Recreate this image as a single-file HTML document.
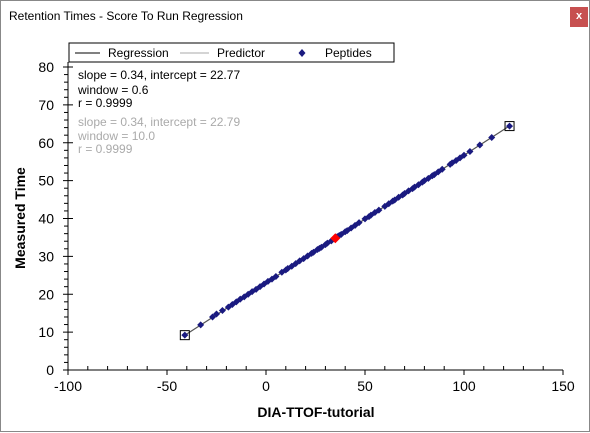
<!DOCTYPE html>
<html><head><meta charset="utf-8"><style>
body{margin:0;width:590px;height:432px;background:#fff;font-family:"Liberation Sans",sans-serif;overflow:hidden;position:relative}
#win{position:absolute;left:0;top:0;width:588px;height:430px;border:1px solid #888;background:#fff}
#title{position:absolute;left:8px;top:8px;font-size:12px;color:#000}
#close{position:absolute;left:569px;top:6px;width:18px;height:20px;background:#c75050;color:#fff;font-size:11px;font-weight:bold;text-align:center;line-height:19px}
</style></head><body>
<div id="win">
<div id="title">Retention Times - Score To Run Regression</div>
<div id="close">x</div>
<svg id="chart" width="590" height="432" style="position:absolute;left:0;top:0"></svg>
</div>
<script>
const xTicks=[-100,-50,0,50,100,150];
const yTicks=[0,10,20,30,40,50,60,70,80];
const peptideX=[-41,-33,-27,-25,-22,-19,-17,-15,-13,-11,-9,-7,-5,-3,-1,1,3,5,8,10,11,13,15,17,19,21,23,24,26,27,28,30,31,33,36,37,38,40,41,43,45,47,50,52,53,55,57,60,62,64,65,67,69,70,72,74,75,77,79,80,82,84,85,87,89,93,94,96,98,100,103,108,114,123];
const peptideY=[9.2,11.9,14.0,14.8,15.7,16.6,17.3,18.0,18.7,19.3,20.0,20.7,21.3,22.0,22.7,23.4,24.0,24.7,25.8,26.4,26.8,27.4,28.1,28.8,29.4,30.1,30.8,31.1,31.8,32.1,32.4,33.1,33.5,34.1,35.2,35.5,35.8,36.5,36.8,37.5,38.2,38.9,39.9,40.5,40.9,41.6,42.2,43.2,43.9,44.6,44.9,45.6,46.2,46.6,47.3,47.9,48.3,48.9,49.6,50.0,50.6,51.3,51.6,52.3,53.0,54.3,54.7,55.3,56.0,56.7,57.7,59.4,61.4,64.4];
const regression=[0.337,23.0];
const selectedX=[35],selectedY=[34.8];
const svg=document.getElementById('chart');
const NS='http://www.w3.org/2000/svg';
const X0=67,X1=562,Y0=369,Y1=66;
function sx(v){return X0+(v-xTicks[0])/(xTicks[xTicks.length-1]-xTicks[0])*(X1-X0);}
function sy(v){return Y0-(v-yTicks[0])/(yTicks[yTicks.length-1]-yTicks[0])*(Y0-Y1);}
function mk(t,a,txt){const e=document.createElementNS(NS,t);for(const k in a)e.setAttribute(k,a[k]);if(txt!==undefined)e.textContent=txt;svg.appendChild(e);return e;}
let e;
e=mk('line',{x1:X0,y1:Y1-5,x2:X0,y2:Y0,stroke:'#000'});


e=mk('line',{x1:X0-4,y1:Y0,x2:X1,y2:Y0,stroke:'#000'});


xTicks.forEach((v,i)=>{
 e=mk('line',{x1:sx(v),y1:Y0,x2:sx(v),y2:Y0+5,stroke:'#000'});
 
 
 if(i<xTicks.length-1)for(let m=1;m<5;m++){e=mk('line',{x1:sx(v+m*10),y1:Y0,x2:sx(v+m*10),y2:Y0-4,stroke:'#000'});
 
 }
 e=mk('text',{x:sx(v),y:Y0+21,'text-anchor':'middle','font-size':'14'},v);
 
 
});
yTicks.forEach((v,i)=>{
 e=mk('line',{x1:X0-5,y1:sy(v),x2:X0+5,y2:sy(v),stroke:'#000'});
 
 
 if(i<yTicks.length-1)for(let m=1;m<5;m++){e=mk('line',{x1:X0-4,y1:sy(v+m*2),x2:X0,y2:sy(v+m*2),stroke:'#000'});
 
 }
 e=mk('text',{x:X0-14,y:sy(v)+5,'text-anchor':'end','font-size':'14'},v);
 
 
});
e=mk('text',{x:315,y:416,'text-anchor':'middle','font-size':'14','font-weight':'bold'},'DIA-TTOF-tutorial');


e=mk('text',{x:24,y:217,'text-anchor':'middle','font-size':'14','font-weight':'bold',transform:'rotate(-90 24 217)'},'Measured Time');


const xa=peptideX[0],xb=peptideX[peptideX.length-1];
e=mk('line',{x1:sx(xa),y1:sy(regression[0]*xa+regression[1]),x2:sx(xb),y2:sy(regression[0]*xb+regression[1]),stroke:'#555','stroke-width':1.2});


peptideX.forEach((v,i)=>{
 const cx=sx(v),cy=sy(peptideY[i]);
 e=mk('path',{d:`M${cx} ${cy-3.5}L${cx+3.5} ${cy}L${cx} ${cy+3.5}L${cx-3.5} ${cy}Z`,fill:'#1a1a80'});
 
 
});
[0,peptideX.length-1].forEach(i=>{
 e=mk('rect',{x:sx(peptideX[i])-4.5,y:sy(peptideY[i])-4.5,width:9,height:9,fill:'none',stroke:'#000'});
 
 
});
selectedX.forEach((v,i)=>{
 const cx=sx(v),cy=sy(selectedY[i]);
 e=mk('path',{d:`M${cx} ${cy-5}L${cx+5} ${cy}L${cx} ${cy+5}L${cx-5} ${cy}Z`,fill:'#f00'});
 
 
});
const stats=[['slope = 0.34, intercept = 22.77',78,'#000'],['window = 0.6',93,'#000'],['r = 0.9999',106,'#000'],['slope = 0.34, intercept = 22.79',125,'#aaa'],['window = 10.0',139,'#aaa'],['r = 0.9999',152,'#aaa']];
stats.forEach(s=>{e=mk('text',{x:77,y:s[1],'font-size':'12',fill:s[2]},s[0]);
 
 });
e=mk('rect',{x:68,y:42,width:325,height:19,fill:'#fff',stroke:'#000'});


e=mk('line',{x1:74,y1:52,x2:99,y2:52,stroke:'#000'});


e=mk('text',{x:107,y:56,'font-size':'12'},'Regression');


e=mk('line',{x1:179,y1:52,x2:208,y2:52,stroke:'#aaa'});


e=mk('text',{x:216,y:56,'font-size':'12'},'Predictor');


e=mk('path',{d:'M301 48L304.5 52L301 56L297.5 52Z',fill:'#1a1a80'});


e=mk('text',{x:324,y:56,'font-size':'12'},'Peptides');


</script>
</body></html>
